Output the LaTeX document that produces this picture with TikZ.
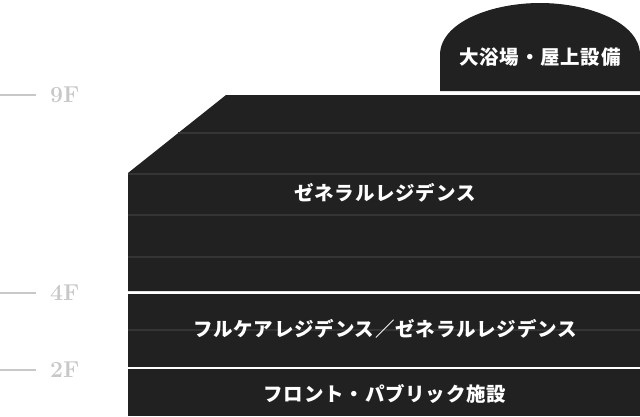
\documentclass[tikz,border=0pt]{standalone}
\usepackage{fontspec}
\usepackage{xcolor}
\usepackage{tikz}
\usetikzlibrary{positioning}
\newfontfamily\jpfont{Noto Sans CJK JP}[LetterSpace=4]
\definecolor{floordark}{HTML}{212121}
\definecolor{floorline}{HTML}{353535}
\definecolor{marklight}{HTML}{C8C8C8}
\tikzset{%
       bldg/.style = { fill=floordark },
   slabline/.style = { floorline, line width=2pt },
    roomlbl/.style = { text=white, font=\jpfont\bfseries\fontsize{19.5}{19.5}\selectfont, inner sep=0pt },
   floorlbl/.style = { text=marklight, font=\bfseries\fontsize{23}{23}\selectfont, anchor=west, inner sep=0pt },
  floortick/.style = { marklight, line width=2.2pt }
}

\begin{document}
\begin{tikzpicture}[x=1pt,y=-1pt,line join=round]
\useasboundingbox (0,0) rectangle (640,416);
% rooftop
\fill[bldg] (440,91) -- (440,55) .. controls (440,22) and (492,3) .. (540,3)
      .. controls (588,3) and (640,22) .. (640,55) -- (640,91) -- cycle;
% 4F-9F
\fill[bldg] (226,95) -- (640,95) -- (640,291) -- (128,291) -- (128,173) -- cycle;
\draw[slabline] (178,133) -- (640,133);
\draw[slabline] (128,174) -- (640,174);
\draw[slabline] (128,215) -- (640,215);
\draw[slabline] (128,257) -- (640,257);
% 2F-3F
\fill[bldg] (128,294) rectangle (640,367);
\draw[slabline] (128,330) -- (640,330);
% 1F
\fill[bldg] (128,369) rectangle (640,416);

\node (roof) [roomlbl] at (540,57) {大浴場・屋上設備};
\node (general) [roomlbl] at (385,193) {ゼネラルレジデンス};
\node (fullcare) [roomlbl] at (385,329) {フルケアレジデンス／ゼネラルレジデンス};
\node (front) [roomlbl] at (385,394) {フロント・パブリック施設};

\coordinate (t9) at (0,95);
\coordinate (t4) at (0,293);
\coordinate (t2) at (0,370);
\node (f9) [floorlbl, right=50pt of t9] {9F};
\node (f4) [floorlbl, right=50pt of t4] {4F};
\node (f2) [floorlbl, right=50pt of t2] {2F};
\draw[floortick] (t9) -- ([xshift=-14pt]f9.west);
\draw[floortick] (t4) -- ([xshift=-14pt]f4.west);
\draw[floortick] (t2) -- ([xshift=-14pt]f2.west);
\end{tikzpicture}
\end{document}
